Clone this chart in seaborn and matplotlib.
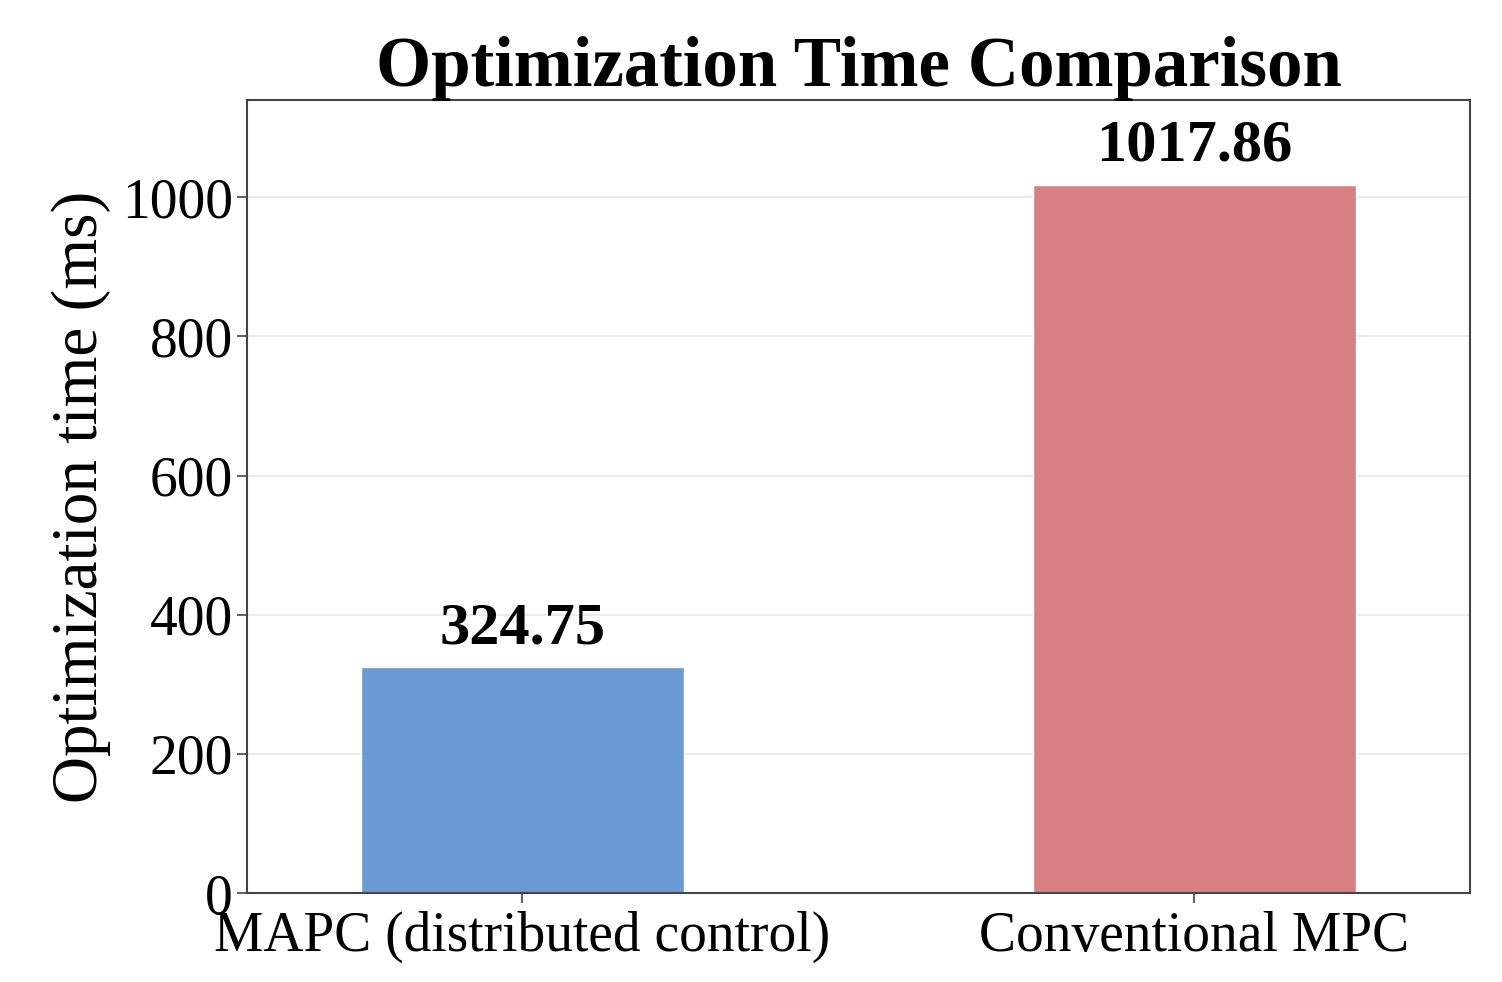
import pandas as pd
import matplotlib.pyplot as plt
import seaborn as sns

# data
methods = ["MAPC (distributed control)", "Conventional MPC"]
opt_time_ms = [324.75, 1017.86]
bar_colors = ["#6a9ad3", "#d68082"]

sns.set_theme(style="whitegrid")
plt.rcParams["font.family"] = ["Liberation Serif", "DejaVu Serif"]
plt.rcParams["text.color"] = "black"
plt.rcParams["axes.labelcolor"] = "black"
plt.rcParams["xtick.color"] = "black"
plt.rcParams["ytick.color"] = "black"

df = pd.DataFrame({"Method": methods, "Time": opt_time_ms})

fig = plt.figure(figsize=(15.02, 9.82), dpi=100)
ax = fig.add_axes([0.1644, 0.0906, 0.8143, 0.8076])

sns.barplot(data=df, x="Method", y="Time", hue="Method", palette=bar_colors,
            width=0.48, legend=False, saturation=1, ax=ax)

for cont in ax.containers:
    ax.bar_label(cont, fmt="%.2f", padding=8, fontsize=43.5, fontweight="bold",
                 color="black")

ax.set_xlim(-0.41, 1.41)
ax.set_ylim(0, max(opt_time_ms) * 1.12)
ax.set_yticks([0, 200, 400, 600, 800, 1000])

ax.set_title("Optimization Time Comparison", fontsize=51, fontweight="bold",
             pad=10, color="black")
ax.set_ylabel("Optimization time (ms)", fontsize=47, labelpad=8)
ax.set_xlabel("")
ax.tick_params(axis="both", labelsize=40, length=7, width=1.2,
               bottom=True, left=True)
ax.tick_params(axis="y", pad=3)
ax.tick_params(axis="x", pad=6)
ax.tick_params(axis="both", color="#444444")

ax.grid(axis="y", color="#ebebeb", linewidth=1.5)
ax.grid(axis="x", visible=False)
for sp in ax.spines.values():
    sp.set_color("#444444")
    sp.set_linewidth(1.5)

fig.savefig("out.png", dpi=100)
plt.close()
